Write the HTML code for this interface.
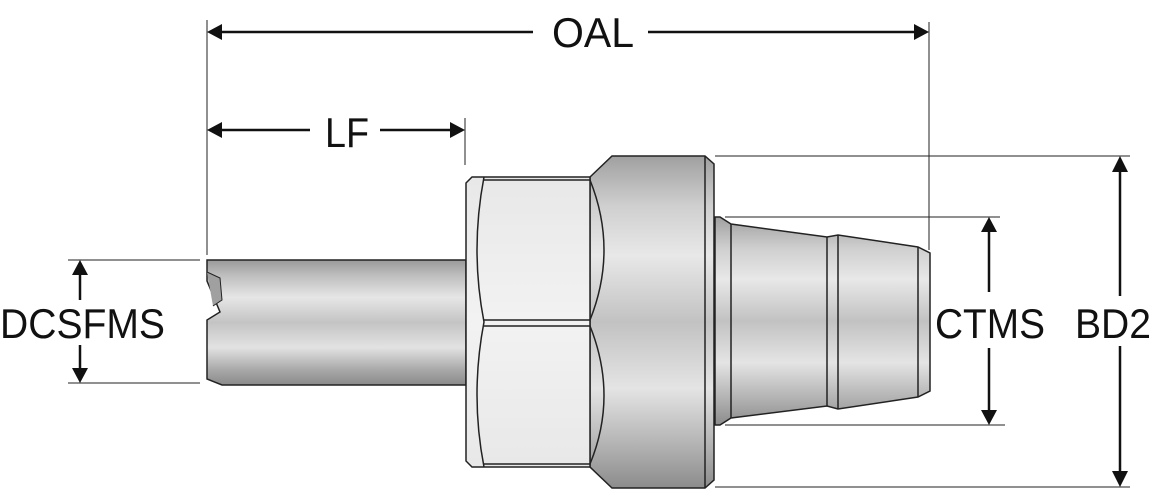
<!DOCTYPE html>
<html><head><meta charset="utf-8"><style>
html,body{margin:0;padding:0;background:#fff;width:1152px;height:500px;overflow:hidden}
svg{display:block}
text{font-family:"Liberation Sans",sans-serif;font-size:42px;fill:#111}
</style></head><body>
<svg width="1152" height="500" viewBox="0 0 1152 500" xmlns="http://www.w3.org/2000/svg">
<defs>
<linearGradient id="tube" x1="0" y1="0" x2="0" y2="1">
<stop offset="0" stop-color="#9a9a9a"/><stop offset="0.12" stop-color="#bdbdbd"/><stop offset="0.3" stop-color="#e6e6e6"/><stop offset="0.5" stop-color="#c4c4c4"/><stop offset="0.7" stop-color="#e2e2e2"/><stop offset="0.88" stop-color="#a8a8a8"/><stop offset="1" stop-color="#8a8a8a"/>
</linearGradient>
<linearGradient id="body" x1="0" y1="0" x2="0" y2="1">
<stop offset="0" stop-color="#a0a0a0"/><stop offset="0.15" stop-color="#cfcfcf"/><stop offset="0.3" stop-color="#e8e8e8"/><stop offset="0.5" stop-color="#c2c2c2"/><stop offset="0.7" stop-color="#e4e4e4"/><stop offset="0.88" stop-color="#b0b0b0"/><stop offset="1" stop-color="#8c8c8c"/>
</linearGradient>
<linearGradient id="hex" x1="0" y1="0" x2="0" y2="1">
<stop offset="0" stop-color="#e8e8e8"/><stop offset="0.5" stop-color="#f2f2f2"/><stop offset="1" stop-color="#e8e8e8"/>
</linearGradient>
</defs>
<g stroke="#222" stroke-width="1.5">
<path d="M207,260 L466,260 L466,385 L222,385 L207,379 L207,320 L220,312 L215,300 L207,281 Z" fill="url(#tube)"/>
<path d="M207,272 L220,278 L222,300 L213,306" fill="#a0a0a0" stroke-width="1"/>
<path d="M590,177 L612,156 L705,156 L714,164 L714,480 L705,488 L612,488 L590,467 Z" fill="url(#body)"/>
<line x1="705" y1="156" x2="705" y2="488"/>
<path d="M466,183 L472,177 L590,177 L590,467 L472,467 L466,461 Z" fill="url(#hex)"/>
<path d="M484,177 Q470,250 484,322 Q470,395 484,467" fill="none"/>
<path d="M590,180 Q618,250 590,320 M590,326 Q618,396 590,464" fill="none"/>
<line x1="484" y1="180" x2="590" y2="180"/>
<line x1="484" y1="464" x2="590" y2="464"/>
<line x1="484" y1="320" x2="590" y2="320"/>
<line x1="484" y1="326" x2="590" y2="326"/>
<path d="M715,217 L720,217 L731,224 L827,237 L838,235 L918,247 L930,253 L930,391 L918,397 L838,409 L827,406 L731,418 L720,425 L715,425 Z" fill="url(#body)"/>
<line x1="731" y1="224" x2="731" y2="418"/>
<line x1="827" y1="237" x2="827" y2="406"/>
<line x1="838" y1="235" x2="838" y2="409"/>
<line x1="918" y1="247" x2="918" y2="397"/>
</g>
<g stroke="#222" stroke-width="1" fill="none">
<line x1="207" y1="20" x2="207" y2="255"/>
<line x1="929" y1="22" x2="929" y2="250"/>
<line x1="465" y1="118" x2="465" y2="165"/>
<line x1="68" y1="260" x2="200" y2="260"/>
<line x1="68" y1="383" x2="200" y2="383"/>
<line x1="715" y1="156" x2="1130" y2="156"/>
<line x1="715" y1="487" x2="1130" y2="487"/>
<line x1="725" y1="217" x2="1000" y2="217"/>
<line x1="725" y1="425" x2="1005" y2="425"/>
</g>
<g stroke="#111" stroke-width="2.5" fill="none">
<line x1="215" y1="32" x2="533" y2="32"/>
<line x1="648" y1="32" x2="921" y2="32"/>
<line x1="215" y1="130" x2="310" y2="130"/>
<line x1="380" y1="130" x2="458" y2="130"/>
<line x1="80" y1="268" x2="80" y2="300"/>
<line x1="80" y1="345" x2="80" y2="376"/>
<line x1="989" y1="225" x2="989" y2="292"/>
<line x1="989" y1="348" x2="989" y2="417"/>
<line x1="1120" y1="164" x2="1120" y2="296"/>
<line x1="1120" y1="346" x2="1120" y2="479"/>
</g>
<g fill="#111">
<path d="M207,32 L222,24 L222,40 Z"/>
<path d="M929,32 L914,24 L914,40 Z"/>
<path d="M207,130 L222,122 L222,138 Z"/>
<path d="M465,130 L450,122 L450,138 Z"/>
<path d="M80,260 L72,275 L88,275 Z"/>
<path d="M80,383 L72,368 L88,368 Z"/>
<path d="M989,217 L981,232 L997,232 Z"/>
<path d="M989,425 L981,410 L997,410 Z"/>
<path d="M1120,156 L1112,172 L1128,172 Z"/>
<path d="M1120,487 L1112,471 L1128,471 Z"/>
</g>
<text x="552" y="47" textLength="82" lengthAdjust="spacingAndGlyphs">OAL</text>
<text x="325" y="147" textLength="44" lengthAdjust="spacingAndGlyphs">LF</text>
<text x="0" y="338" textLength="165" lengthAdjust="spacingAndGlyphs">DCSFMS</text>
<text x="935" y="338" textLength="110" lengthAdjust="spacingAndGlyphs">CTMS</text>
<text x="1075" y="338" textLength="76" lengthAdjust="spacingAndGlyphs">BD2</text>
</svg>
</body></html>
